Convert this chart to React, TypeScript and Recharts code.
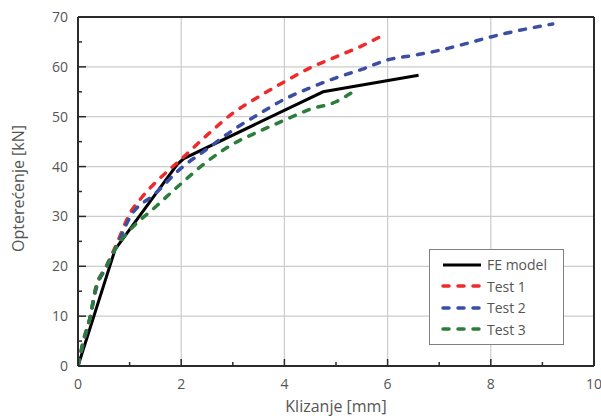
import React from 'react';
import {
  LineChart,
  Line,
  XAxis,
  YAxis,
  ReferenceLine,
  Legend,
} from 'recharts';

// FE model (solid black)
const feX = [0, 0.72, 1.92, 2.05, 4.75, 6.6];
const feY = [0, 23.4, 40.4, 41.6, 55, 58.3];

// Test 1 (red dashed)
const test1X = [0, 0.1, 0.24, 0.33, 0.55, 0.75, 1, 1.25, 1.5, 1.75, 2, 2.5, 3, 3.5, 4, 4.5, 5, 5.5, 5.85];
const test1Y = [0, 4.6, 10, 15, 20, 24.5, 30.5, 34, 36.8, 39.2, 41.5, 46.3, 50.7, 54, 57, 59.8, 62, 64.2, 66];

// Test 2 (blue dashed)
const test2X = [0, 0.1, 0.24, 0.34, 0.56, 0.77, 1, 1.5, 2, 2.5, 3, 3.5, 4, 4.5, 5, 5.5, 6, 6.5, 7, 7.5, 8, 8.5, 9.2];
const test2Y = [0, 4.5, 10, 15, 20, 24.5, 29.7, 34.6, 39.7, 43.5, 47.3, 50.5, 53.5, 55.8, 57.8, 59.5, 61.4, 62.3, 63.3, 64.6, 66, 67.2, 68.6];

// Test 3 (green dashed)
const test3X = [0, 0.1, 0.24, 0.33, 0.55, 0.75, 1, 1.5, 2, 2.5, 3, 3.5, 4, 4.5, 5, 5.3];
const test3Y = [0, 5, 10, 15, 20, 24, 27.2, 31.9, 36.6, 41, 44.5, 47, 49.3, 51.5, 53, 54.8];

const xTicks = [0, 1, 2, 3, 4, 5, 6, 7, 8, 9, 10];
const xLabeled = [0, 2, 4, 6, 8, 10];
const yTicks = [0, 5, 10, 15, 20, 25, 30, 35, 40, 45, 50, 55, 60, 65, 70];
const yLabeled = [0, 10, 20, 30, 40, 50, 60, 70];

const series = [
  { name: 'FE model', xs: feX, ys: feY, color: '#000000', dashed: false },
  { name: 'Test 1', xs: test1X, ys: test1Y, color: '#ee2b2b', dashed: true },
  { name: 'Test 2', xs: test2X, ys: test2Y, color: '#3a4ea3', dashed: true },
  { name: 'Test 3', xs: test3X, ys: test3Y, color: '#2c7d3c', dashed: true },
];

const FONT = '"Open Sans", "DejaVu Sans", sans-serif';
const TEXT = '#555555';
const AXIS = '#2b2b2b';
const GRID = '#cccccc';
const X_MARGIN = 10;
const Y_MARGIN = 10;

const toPoints = (xs: number[], ys: number[]) => xs.map((x, i) => ({ x, y: ys[i] }));

// x tick: label under the axis, tick mark pointing up into the plot
const XTick = (props: any) => {
  const { x, y, payload } = props;
  const major = xLabeled.includes(payload.value);
  const axisY = y - X_MARGIN;
  return (
    <g>
      <line x1={x} x2={x} y1={axisY} y2={axisY - (major ? 7 : 4)} stroke={AXIS} strokeWidth={1.5} />
      {major && (
        <text x={x} y={y} dy="0.9em" textAnchor="middle" fill={TEXT} fontSize={14} fontFamily={FONT}>
          {payload.value}
        </text>
      )}
    </g>
  );
};

// y tick: label left of the axis, tick mark pointing right into the plot
const YTick = (props: any) => {
  const { x, y, payload } = props;
  const major = yLabeled.includes(payload.value);
  const axisX = x + Y_MARGIN;
  return (
    <g>
      <line x1={axisX} x2={axisX + (major ? 8 : 4)} y1={y} y2={y} stroke={AXIS} strokeWidth={1.5} />
      {major && (
        <text x={x} y={y} dy="0.36em" textAnchor="end" fill={TEXT} fontSize={14} fontFamily={FONT}>
          {payload.value}
        </text>
      )}
    </g>
  );
};

const YLabel = (props: any) => {
  const vb = props.viewBox || {};
  const cx = 18;
  const cy = (vb.y ?? 17) + (vb.height ?? 349) / 2 - 3;
  return (
    <text
      x={cx}
      y={cy}
      dy="0.36em"
      transform={`rotate(-90 ${cx} ${cy})`}
      textAnchor="middle"
      fill={TEXT}
      fontSize={16}
      fontFamily={FONT}
    >
      Opterećenje [kN]
    </text>
  );
};

const LegendBox = () => (
  <div
    style={{
      border: '1.5px solid #808080',
      background: '#fff',
      width: 133,
      padding: '4px 0 4px 0',
      fontFamily: FONT,
      fontSize: 14,
      color: TEXT,
    }}
  >
    {series.map((s) => (
      <div key={s.name} style={{ display: 'flex', alignItems: 'center', height: 21.5 }}>
        <svg width={56} height={10}>
          <line
            x1={13}
            x2={51}
            y1={5}
            y2={5}
            stroke={s.color}
            strokeWidth={s.dashed ? 3.5 : 3}
            strokeDasharray={s.dashed ? '6 9' : undefined}
            strokeLinecap={s.dashed ? 'round' : 'butt'}
          />
        </svg>
        <span style={{ marginLeft: 1 }}>{s.name}</span>
      </div>
    ))}
  </div>
);

export default function App() {
  return (
    <div style={{ position: 'absolute', left: 0, top: 0, width: 601, height: 419, background: '#fff' }}>
      <LineChart width={601} height={419} margin={{ top: 17, right: 7, bottom: 0, left: 0 }}>
        <XAxis
          dataKey="x"
          type="number"
          domain={[0, 10]}
          ticks={xTicks}
          interval={0}
          allowDataOverflow
          height={53}
          tickSize={0}
          tickMargin={X_MARGIN}
          tick={<XTick />}
          axisLine={{ stroke: AXIS, strokeWidth: 2 }}
          label={{
            value: 'Klizanje [mm]',
            position: 'insideBottom',
            offset: 7,
            fill: TEXT,
            fontSize: 16,
            fontFamily: FONT,
          }}
        />
        <YAxis
          dataKey="y"
          type="number"
          domain={[0, 70]}
          ticks={yTicks}
          interval={0}
          allowDataOverflow
          width={78}
          tickSize={0}
          tickMargin={Y_MARGIN}
          tick={<YTick />}
          axisLine={{ stroke: AXIS, strokeWidth: 2 }}
          label={{ content: <YLabel /> }}
        />
        {xLabeled.slice(1, -1).map((v) => (
          <ReferenceLine key={'gx' + v} x={v} stroke={GRID} strokeWidth={1.2} />
        ))}
        {yLabeled.slice(1, -1).map((v) => (
          <ReferenceLine key={'gy' + v} y={v} stroke={GRID} strokeWidth={1.2} />
        ))}
        <ReferenceLine x={10} stroke={AXIS} strokeWidth={2} />
        <ReferenceLine y={70} stroke={AXIS} strokeWidth={2} />
        {series.map((s) => (
          <Line
            key={s.name}
            name={s.name}
            data={toPoints(s.xs, s.ys)}
            dataKey="y"
            type={s.dashed ? 'monotone' : 'linear'}
            stroke={s.color}
            strokeWidth={s.dashed ? 3.5 : 3}
            strokeDasharray={s.dashed ? '6 9' : undefined}
            strokeLinecap={s.dashed ? 'round' : 'butt'}
            dot={false}
            activeDot={false}
            isAnimationActive={false}
          />
        ))}
        <Legend
          layout="horizontal"
          verticalAlign="middle"
          align="center"
          content={<LegendBox />}
          wrapperStyle={{ left: 429, top: 249, width: 'auto' }}
        />
      </LineChart>
    </div>
  );
}
